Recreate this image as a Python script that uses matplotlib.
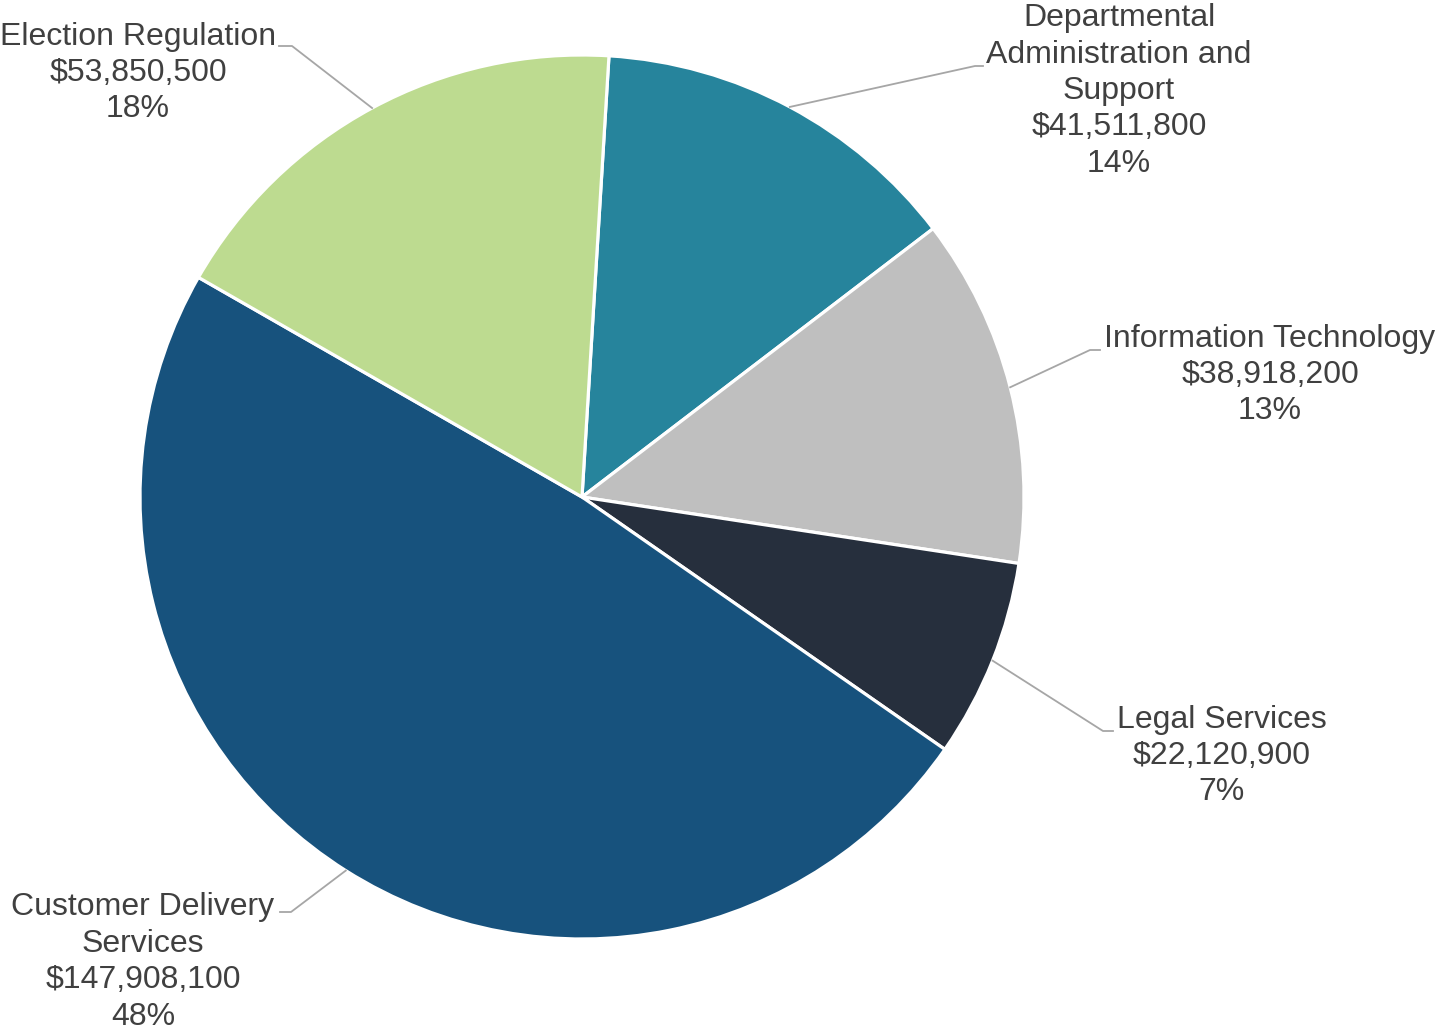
import numpy as np
import matplotlib.pyplot as plt

plt.rcParams['font.family'] = ['Liberation Sans', 'DejaVu Sans']

# данные (по часовой стрелке, начиная сверху)
names = ['Departmental\nAdministration and\nSupport', 'Information Technology',
         'Legal Services', 'Customer Delivery\nServices', 'Election Regulation']
amounts = [41511800, 38918200, 22120900, 147908100, 53850500]
percents = [14, 13, 7, 48, 18]
colors = ['#26849C', '#BFBFBF', '#262F3D', '#17527D', '#BDDB90']

# положения подписей и изломов выносок (в пикселях картинки)
label_pos = [(1119, 91), (1270, 375), (1222, 756), (143, 962), (138, 73)]
elbow_pos = [((975, 66), (983, 66)), ((1090, 350), (1100, 350)),
             ((1103, 731), (1113, 731)), ((291, 912), (280, 912)),
             ((292, 46), (279, 46))]

W, H = 1437, 1032
fig = plt.figure(figsize=(W / 100, H / 100), dpi=100)
ax = fig.add_axes([0, 0, 1, 1])

cx, cy, r = 582, H - 497, 442
start = 86.5
wedges, _ = ax.pie(amounts, colors=colors, startangle=start, counterclock=False,
                   center=(cx, cy), radius=r, frame=True,
                   wedgeprops=dict(edgecolor='white', linewidth=2.3))
ax.set_xlim(0, W)
ax.set_ylim(0, H)
ax.set_aspect('equal')
ax.axis('off')

for w, name, amt, pct, (lx, ly), (e1, e2) in zip(wedges, names, amounts, percents,
                                                 label_pos, elbow_pos):
    mid = np.deg2rad((w.theta1 + w.theta2) / 2)
    px, py = cx + r * np.cos(mid), cy + r * np.sin(mid)
    ax.plot([px, e1[0], e2[0]], [py, H - e1[1], H - e2[1]], color='#A6A6A6', lw=1.3)
    ax.text(lx, H - ly, f'{name}\n${amt:,}\n{pct}%', ha='center', va='center',
            multialignment='center', fontsize=23, color='#404040', linespacing=1.28)

fig.savefig('out.png', dpi=100)
